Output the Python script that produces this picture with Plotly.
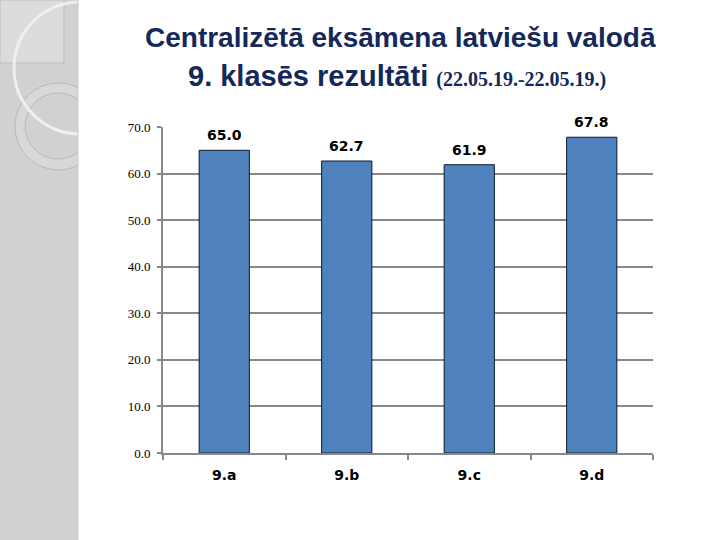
import plotly.graph_objects as go

categories = ["9.a", "9.b", "9.c", "9.d"]
values = [65.0, 62.7, 61.9, 67.8]
tick_vals = [0, 10, 20, 30, 40, 50, 60, 70]
tick_text = ["0.0", "10.0", "20.0", "30.0", "40.0", "50.0", "60.0", "70.0"]

W, H = 720, 540

def px(x):
    return x / W

def py(y):
    return 1 - y / H

fig = go.Figure()
fig.add_trace(go.Bar(
    x=categories, y=values,
    marker=dict(color="#4F81BD", line=dict(color="#0B1A33", width=1)),
    hoverinfo="skip",
))

for c, v in zip(categories, values):
    fig.add_annotation(x=c, y=v, text=f"<b>{v:.1f}</b>", showarrow=False,
                       yanchor="middle", yshift=15,
                       font=dict(family="DejaVu Sans", size=14, color="#000000"))

strip = "#d1d1d1"
shapes = []
# left decorative strip
shapes.append(dict(type="rect", xref="paper", yref="paper", x0=0, x1=px(78), y0=0, y1=1,
                   fillcolor=strip, line=dict(width=0), layer="below"))
shapes.append(dict(type="rect", xref="paper", yref="paper", x0=0, x1=px(64), y0=py(63), y1=1,
                   fillcolor="#dcdcdc", line=dict(color="#bdbdbd", width=1), layer="below"))
# rings
shapes.append(dict(type="circle", xref="paper", yref="paper",
                   x0=px(58.5 - 43.5), x1=px(58.5 + 43.5), y0=py(126.5 + 43.5), y1=py(126.5 - 43.5),
                   line=dict(color="#b8b8b8", width=1), fillcolor="#d8d8d8", layer="below"))
shapes.append(dict(type="circle", xref="paper", yref="paper",
                   x0=px(58 - 33), x1=px(58 + 33), y0=py(126 + 33), y1=py(126 - 33),
                   line=dict(color="#b8b8b8", width=1), fillcolor=strip, layer="below"))
# big white arc
shapes.append(dict(type="circle", xref="paper", yref="paper",
                   x0=px(80 - 66), x1=px(80 + 66), y0=py(68 + 66), y1=py(68 - 66),
                   line=dict(color="#efefef", width=3), fillcolor="rgba(0,0,0,0)", layer="below"))
# white cover for the rest of the slide
shapes.append(dict(type="rect", xref="paper", yref="paper", x0=px(78), x1=1, y0=0, y1=1,
                   fillcolor="#ffffff", line=dict(width=0), layer="below"))
shapes.append(dict(type="line", xref="paper", yref="paper", x0=px(78), x1=px(78), y0=0, y1=1,
                   line=dict(color="#c8c8c8", width=1), layer="below"))

title_color = "#14285A"
fig.add_annotation(xref="paper", yref="paper", x=px(400), y=py(37),
                   text="<b>Centralizētā eksāmena latviešu valodā</b>", showarrow=False,
                   xanchor="center", yanchor="middle",
                   font=dict(family="Liberation Sans", size=28, color=title_color))
fig.add_annotation(xref="paper", yref="paper", x=px(397), y=py(76),
                   text="<b>9. klasēs rezultāti </b><b><span style='font-family:Liberation Serif;font-size:20px'>(22.05.19.-22.05.19.)</span></b>",
                   showarrow=False, xanchor="center", yanchor="middle",
                   font=dict(family="Liberation Sans", size=29, color=title_color))

fig.update_layout(
    width=W, height=H,
    margin=dict(l=0, r=0, t=0, b=0, pad=0, autoexpand=False),
    paper_bgcolor="#ffffff", plot_bgcolor="rgba(0,0,0,0)",
    showlegend=False, shapes=shapes, bargap=0.59,
    xaxis=dict(domain=[px(163), px(653)], showgrid=False, automargin=False,
               showline=True, linecolor="#888888", linewidth=2,
               ticks="outside", tickson="boundaries", ticklen=5, tickcolor="#888888", tickwidth=2,
               tickfont=dict(family="DejaVu Sans", size=14, color="#000000"),
               tickprefix="<b>", ticksuffix="</b>",
               ticklabelstandoff=8),
    yaxis=dict(domain=[py(453), py(127)], range=[0, 70], automargin=False,
               tickvals=tick_vals, ticktext=tick_text,
               showgrid=True, gridcolor="#888888", gridwidth=2,
               showline=True, linecolor="#888888", linewidth=2,
               ticks="outside", ticklen=4, tickcolor="#888888", tickwidth=2,
               tickfont=dict(family="Liberation Serif", size=13, color="#000000"),
               ticklabelstandoff=4,
               zeroline=False),
)

fig.write_html("out.html", config={"displayModeBar": False},
               post_script="document.body.style.margin='0';")
